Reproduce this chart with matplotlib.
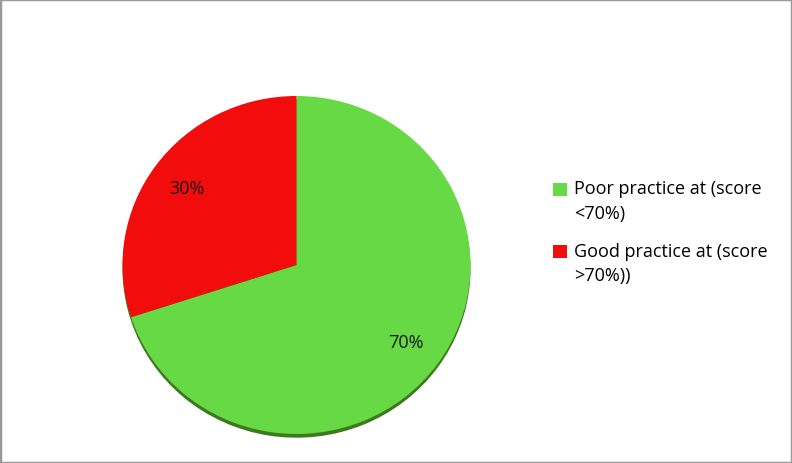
import matplotlib.pyplot as plt
from matplotlib.patches import Rectangle
from matplotlib.legend_handler import HandlerPatch

labels = ["Poor practice at (score\n<70%)", "Good practice at (score\n>70%))"]
values = [70, 30]
colors = ["#66d944", "#f20c0c"]
shadow_colors = ["#3d7a1c", "#3d7a1c"]

fig = plt.figure(figsize=(7.92, 4.64), dpi=100)
fig.patch.set_facecolor("white")

ax = fig.add_axes([122.5 / 792, 29 / 464, 348 / 792, 338 / 464])

# shadow under the pie
ax.pie(values, colors=shadow_colors, startangle=90, counterclock=False,
       radius=1.0, center=(0, -0.022), wedgeprops=dict(linewidth=0))

wedges, texts, autotexts = ax.pie(
    values, colors=colors, startangle=90, counterclock=False, radius=1.0,
    autopct="%d%%", pctdistance=0.78,
    wedgeprops=dict(linewidth=0),
    textprops=dict(fontsize=13, color="#1a1a1a", family="Open Sans"))
ax.set_xlim(-1, 1)
ax.set_ylim(-1.0, 1.0)
ax.set_aspect("auto")


# legend square sits next to the first text line, not the middle
def top_square(legend, orig_handle, xdescent, ydescent, width, height, fontsize):
    return Rectangle((-xdescent, -ydescent + 0.66 * fontsize), width, height)


leg = fig.legend(wedges, labels, loc="upper left",
                 bbox_to_anchor=(537 / 792, 1 - 164 / 464),
                 frameon=False, handlelength=0.75, handleheight=0.75,
                 handletextpad=0.4, labelspacing=1.12,
                 prop=dict(family="Open Sans", size=13),
                 handler_map={w: HandlerPatch(patch_func=top_square) for w in wedges})
for t in leg.get_texts():
    t.set_linespacing(1.45)

# grey outer frame
fig.patches.append(Rectangle((0, 0), 1, 1, transform=fig.transFigure,
                             fill=False, edgecolor="#999999", linewidth=2.5))

fig.savefig("out.png", dpi=100)
